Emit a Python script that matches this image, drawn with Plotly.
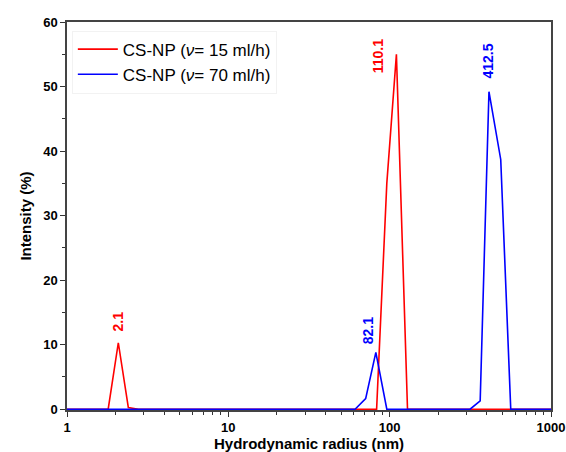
import plotly.graph_objects as go
import math

# Red series: CS-NP (v = 15 ml/h)
red_x = [1, 1.80, 2.08, 2.40, 2.77, 83, 96, 110.1, 129, 1000]
red_y = [0, 0, 10.3, 0.25, 0, 0, 35, 55, 0, 0]

# Blue series: CS-NP (v = 70 ml/h)
blue_x = [1, 61, 71, 82.1, 96, 315, 364, 412.5, 488, 563, 1000]
blue_y = [0, 0, 1.65, 8.8, 0, 0, 1.3, 49.2, 38.7, 0, 0]

label_text = ["2.1", "110.1", "82.1", "412.5"]
label_x = [2.07, 84.7, 73.5, 408]
label_y = [13.6, 54.7, 12.1, 53.9]
label_color = ["#ff0000", "#ff0000", "#0000ff", "#0000ff"]

names = ["CS-NP (<i>ν</i>= 15 ml/h)", "CS-NP (<i>ν</i>= 70 ml/h)"]

FONT = "Liberation Sans, Arial"

fig = go.Figure()
fig.add_trace(go.Scatter(x=red_x, y=red_y, mode="lines", name=names[0],
                         line=dict(color="#ff0000", width=1.6)))
fig.add_trace(go.Scatter(x=blue_x, y=blue_y, mode="lines", name=names[1],
                         line=dict(color="#0000ff", width=1.6)))

for t, x, y, c in zip(label_text, label_x, label_y, label_color):
    fig.add_annotation(x=math.log10(x), y=y, xref="x", yref="y", text="<b>%s</b>" % t,
                       textangle=-90, showarrow=False, xanchor="center", yanchor="middle",
                       font=dict(family=FONT, size=14, color=c))

fig.update_layout(
    width=566, height=452,
    margin=dict(l=67, r=15, t=22, b=42),
    paper_bgcolor="white", plot_bgcolor="white",
    font=dict(family=FONT, color="#000"),
    showlegend=True,
    legend=dict(x=0.01, y=0.978, xanchor="left", yanchor="top",
                bgcolor="rgba(255,255,255,0)", bordercolor="#f2f2f2", borderwidth=1,
                font=dict(size=17, family=FONT),
                itemwidth=40, tracegroupgap=0),
    xaxis=dict(type="log", range=[0, 3], automargin=False,
               tickvals=[1, 10, 100, 1000], ticktext=["1", "10", "100", "1000"],
               ticks="outside", ticklen=5, tickcolor="#333",
               showline=True, linecolor="#444", linewidth=1.5, mirror=True,
               showgrid=False, zeroline=False,
               tickfont=dict(size=13, family=FONT, weight="bold"),
               minor=dict(ticks="outside", ticklen=3, tickcolor="#333", dtick="D1", showgrid=False),
               title=dict(text="<b>Hydrodynamic radius (nm)</b>", font=dict(size=15), standoff=6)),
    yaxis=dict(range=[-0.12, 60], dtick=10, automargin=False,
               ticks="outside", ticklen=5, tickcolor="#333",
               showline=True, linecolor="#444", linewidth=1.5, mirror=True,
               showgrid=False, zeroline=False,
               tickfont=dict(size=13, family=FONT, weight="bold"),
               minor=dict(ticks="outside", ticklen=3, tickcolor="#333", dtick=5, showgrid=False),
               title=dict(text="<b>Intensity (%)</b>", font=dict(size=15), standoff=8)),
)

fig.write_html("out.html")
